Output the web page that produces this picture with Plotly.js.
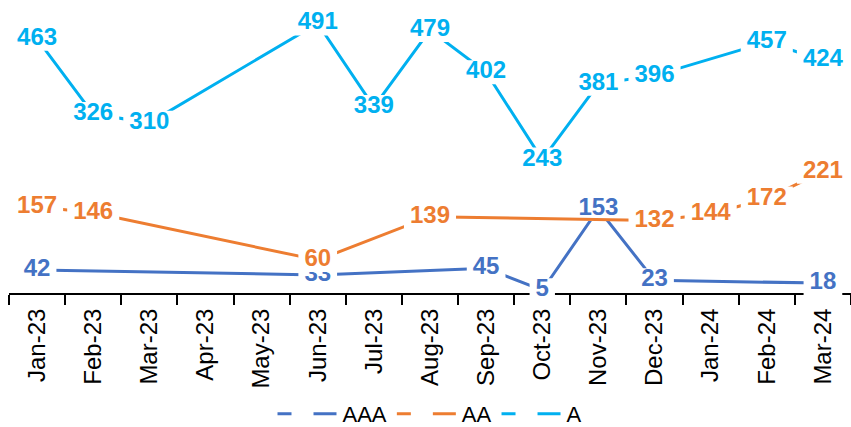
<!DOCTYPE html>
<html><head><meta charset="utf-8">
<script src="https://cdn.plot.ly/plotly-3.0.1.min.js"></script>
<style>html,body{margin:0;padding:0;background:#fff;overflow:hidden}</style>
</head><body><div id="chart" style="width:851px;height:427px"></div>
<script>
const months = ['Jan-23','Feb-23','Mar-23','Apr-23','May-23','Jun-23','Jul-23','Aug-23','Sep-23','Oct-23','Nov-23','Dec-23','Jan-24','Feb-24','Mar-24'];
const seriesNames = ['AAA','AA','A'];
const aaa = [42,null,null,null,null,33,null,null,45,5,153,23,null,null,18];
const aa  = [157,146,null,null,null,60,null,139,null,null,null,132,144,172,221];
const a   = [463,326,310,null,null,491,339,479,402,243,381,396,null,457,424];
const colors = ['#4472C4','#ED7D31','#00B0F0'];

const FONT = 'Arial, "Liberation Sans", sans-serif';
const allSeries = [aaa, aa, a];
const traces = [];
allSeries.forEach((vals, i) => {
  traces.push({
    x: months, y: vals, type: 'scatter', mode: 'lines+markers+text', connectgaps: true,
    line: {color: colors[i], width: 3},
    text: vals.map(v => v === null ? '' : String(v)),
    textposition: 'middle center',
    textfont: {family: FONT, size: 24, color: colors[i], weight: 700},
    marker: {symbol: 'line-ew', color: '#ffffff', opacity: 1,
      size: vals.map(v => v === null ? 0 : (String(v).length * 13.35 + 12) / 1.4),
      line: {color: '#ffffff', width: 24}},
    cliponaxis: false, showlegend: false, hoverinfo: 'skip'
  });
});
seriesNames.forEach((n, i) => {
  traces.push({
    x: [null], y: [null], type: 'scatter', mode: 'lines', name: n,
    line: {color: colors[i], width: 3, dash: '14px,22px,23px,100px'}, hoverinfo: 'skip'
  });
});

const layout = {
  width: 851, height: 427,
  margin: {l: 9, r: 0, t: 5, b: 134, autoexpand: false},
  paper_bgcolor: '#fff', plot_bgcolor: '#fff',
  font: {family: FONT, color: '#000'},
  xaxis: {
    type: 'category', categoryorder: 'array', categoryarray: months,
    range: [-0.5, 14.5], showgrid: false, zeroline: false, automargin: false,
    showline: true, linecolor: '#000', linewidth: 2,
    ticks: 'outside', tickson: 'boundaries', ticklen: 10, tickwidth: 2, tickcolor: '#000',
    tickangle: -90, tickfont: {size: 24, color: '#000', family: FONT},
    ticklabelstandoff: 4,
    layer: 'below traces', fixedrange: true
  },
  yaxis: {
    range: [0, 524.6], visible: false, showgrid: false, zeroline: false, fixedrange: true, automargin: false
  },
  showlegend: true,
  legend: {
    orientation: 'h', x: 0.5, xanchor: 'center', y: -0.42, yanchor: 'middle',
    font: {size: 22, color: '#000', family: FONT}, itemwidth: 60,
    traceorder: 'normal', bgcolor: 'rgba(0,0,0,0)'
  }
};
Plotly.newPlot('chart', traces, layout, {displayModeBar: false, staticPlot: true});
</script></body></html>
